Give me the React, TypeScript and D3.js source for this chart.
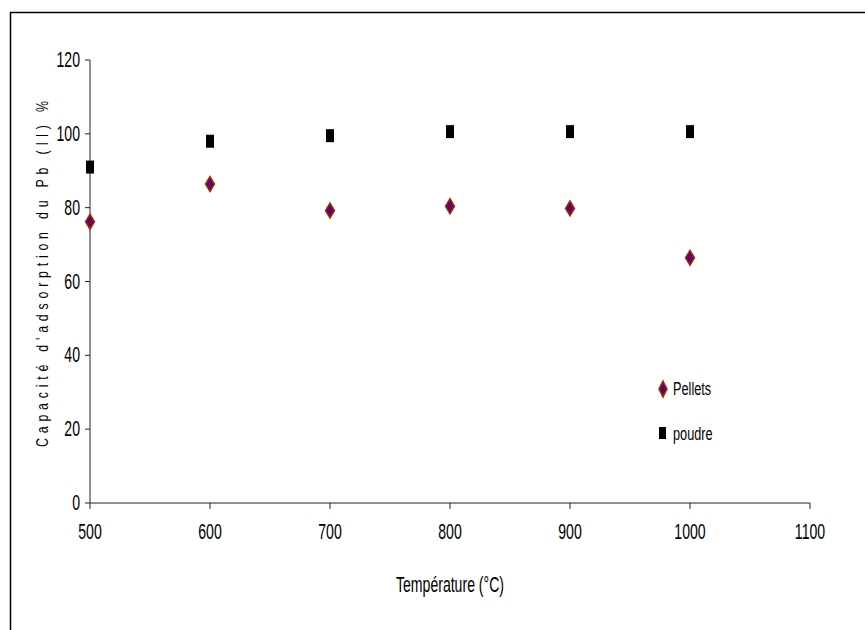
import React from "react";
import * as d3 from "d3";

const temperatures = [500, 600, 700, 800, 900, 1000];
const pellets = [76.2, 86.4, 79.2, 80.4, 79.8, 66.4];
const poudre = [91, 98, 99.5, 100.6, 100.6, 100.6];
const xTicks = [500, 600, 700, 800, 900, 1000, 1100];
const yTicks = [0, 20, 40, 60, 80, 100, 120];

const W = 865;
const H = 630;
const FONT = "'Liberation Sans', Arial, sans-serif";

function NText(props: {
  x: number;
  y: number;
  size: number;
  sx?: number;
  anchor?: string;
  children: React.ReactNode;
}) {
  const { x, y, size, sx = 0.64, anchor = "start", children } = props;
  return (
    <text
      transform={`translate(${x},${y}) scale(${sx},1)`}
      textAnchor={anchor}
      fontSize={size}
      fill="#000"
    >
      {children}
    </text>
  );
}

export default function App() {
  const x = d3.scaleLinear().domain([500, 1100]).range([90, 810]);
  const y = d3.scaleLinear().domain([0, 120]).range([503, 60]);
  const diamond = (cx: number, cy: number, w = 4.5, h = 7.5) =>
    `M${cx},${cy - h}L${cx + w},${cy}L${cx},${cy + h}L${cx - w},${cy}Z`;
  const labelScale = 0.75;

  return (
    <svg width={W} height={H} style={{ position: "absolute", left: 0, top: 0 }} fontFamily={FONT}>
      <rect x={0} y={0} width={W} height={H} fill="#fff" />
      <rect x={10.5} y={12.5} width={W + 20} height={H + 20} fill="none" stroke="#000" strokeWidth={1.5} />
      {/* axes */}
      <line x1={x(500)} x2={x(500)} y1={y(120)} y2={y(0)} stroke="#222" />
      <line x1={x(500)} x2={x(1100)} y1={y(0)} y2={y(0)} stroke="#222" />
      {yTicks.map((t) => (
        <g key={"y" + t}>
          <line x1={x(500) - 5} x2={x(500)} y1={y(t)} y2={y(t)} stroke="#222" />
          <NText x={x(500) - 10} y={y(t) + 7} size={22} anchor="end">
            {t}
          </NText>
        </g>
      ))}
      {xTicks.map((t) => (
        <g key={"x" + t}>
          <line x1={x(t)} x2={x(t)} y1={y(0)} y2={y(0) + 6} stroke="#222" />
          <NText x={x(t)} y={538.5} size={22} anchor="middle">
            {t}
          </NText>
        </g>
      ))}
      <NText x={450} y={592} size={22} anchor="middle">
        Température (°C)
      </NText>
      <text
        transform={`translate(48,274) rotate(-90) scale(${labelScale},1)`}
        textAnchor="middle"
        fontSize={16.5}
        textLength={346 / labelScale}
        lengthAdjust="spacing"
      >
        Capacité d'adsorption du Pb (II) %
      </text>
      {/* data */}
      {temperatures.map((t, i) => (
        <rect key={"p" + t} x={x(t) - 4} y={y(poudre[i]) - 6.5} width={8} height={13} fill="#000" />
      ))}
      {temperatures.map((t, i) => (
        <path key={"d" + t} d={diamond(x(t), y(pellets[i]))} fill="#660066" stroke="#993300" strokeWidth={1.5} />
      ))}
      {/* legend */}
      <path d={diamond(663, 389, 4, 8)} fill="#660066" stroke="#993300" strokeWidth={1.5} />
      <NText x={673} y={395} size={19} sx={0.67}>Pellets</NText>
      <rect x={659} y={427} width={7} height={12} fill="#000" />
      <NText x={673} y={440} size={19} sx={0.67}>poudre</NText>
    </svg>
  );
}
